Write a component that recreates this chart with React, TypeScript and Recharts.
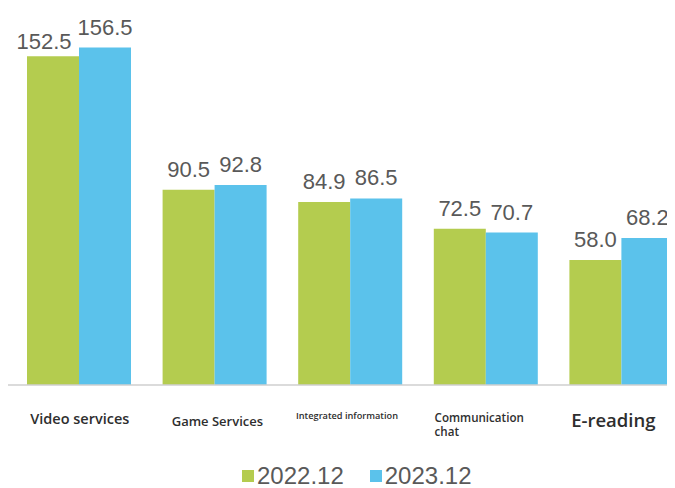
import { Bar, BarChart, LabelList, XAxis, YAxis } from "recharts";

const categories = ["Video services", "Game Services", "Integrated information", "Communication chat", "E-reading"];
const series2022 = [152.5, 90.5, 84.9, 72.5, 58.0];
const series2023 = [156.5, 92.8, 86.5, 70.7, 68.2];
const seriesNames = ["2022.12", "2023.12"];

const colors = ["#b4cc4f", "#5bc2eb"];

const data = categories.map((name, i) => ({
  name,
  a: series2022[i],
  b: series2023[i],
}));

// each category label in the source uses its own size and placement
const tickStyle: Record<string, { size: number; dx: number; dy: number; anchor: "start" | "middle"; lines?: string[] }> = {
  "Video services": { size: 14.5, dx: 1, dy: 39, anchor: "middle" },
  "Game Services": { size: 13, dx: 3, dy: 41, anchor: "middle" },
  "Integrated information": { size: 9.2, dx: -3, dy: 34, anchor: "middle" },
  "Communication chat": { size: 11.6, dx: -51, dy: 37, anchor: "start", lines: ["Communication", "chat"] },
  "E-reading": { size: 18.5, dx: -50, dy: 42, anchor: "start" },
};

function CategoryTick({ x, y, payload }: any) {
  const s = tickStyle[payload.value];
  const lines = s.lines ?? [payload.value];
  return (
    <text
      x={x + s.dx}
      y={y + s.dy}
      textAnchor={s.anchor}
      fill="#2e2e2e"
      fontSize={s.size}
      fontFamily="'Open Sans', 'Noto Sans', sans-serif"
      fontWeight={600}
    >
      {lines.map((l, i) => (
        <tspan key={l} x={x + s.dx} dy={i === 0 ? 0 : 13.5}>
          {l}
        </tspan>
      ))}
    </text>
  );
}

// the tall first label sits a little left and lower so it clears its neighbour
function ValueLabel({ x, y, width, value, index, nudge }: any) {
  const shift = nudge && index === 0;
  return (
    <text
      x={x + width / 2 + (shift ? -9 : 0)}
      y={y - 13 + (shift ? 6 : 0)}
      textAnchor="middle"
      fill="#595959"
      fontSize={22}
      fontFamily="'Liberation Sans', Arial, sans-serif"
    >
      {Number(value).toFixed(1)}
    </text>
  );
}

export default function App() {
  return (
    <div style={{ position: "relative", width: 667, height: 480, overflow: "hidden" }}>
      <BarChart
        width={681}
        height={432}
        data={data}
        margin={{ top: 32, right: 0, left: 0, bottom: 0 }}
        barGap={0}
        barSize={52}
      >
        <XAxis
          dataKey="name"
          height={55}
          padding={{ left: 3, right: 0 }}
          axisLine={{ stroke: "#cfcfcf", strokeWidth: 1.5 }}
          tickLine={false}
          tickSize={0}
          tickMargin={0}
          interval={0}
          tick={<CategoryTick />}
        />
        <YAxis hide domain={[0, 160]} />
        <Bar dataKey="a" name={seriesNames[0]} fill={colors[0]} isAnimationActive={false}>
          <LabelList dataKey="a" content={<ValueLabel nudge />} />
        </Bar>
        <Bar dataKey="b" name={seriesNames[1]} fill={colors[1]} isAnimationActive={false}>
          <LabelList dataKey="b" content={<ValueLabel />} />
        </Bar>
      </BarChart>
      <div
        style={{
          position: "absolute",
          left: 234,
          top: 458,
          display: "flex",
          alignItems: "center",
          fontFamily: "'Liberation Sans', Arial, sans-serif",
          fontSize: 24,
          lineHeight: "20px",
          color: "#595959",
        }}
      >
        {seriesNames.map((n, i) => (
          <div key={n} style={{ display: "flex", alignItems: "center", marginRight: 26 }}>
            <span style={{ width: 12, height: 12, background: colors[i], marginRight: 3 }} />
            <span>{n}</span>
          </div>
        ))}
      </div>
    </div>
  );
}
